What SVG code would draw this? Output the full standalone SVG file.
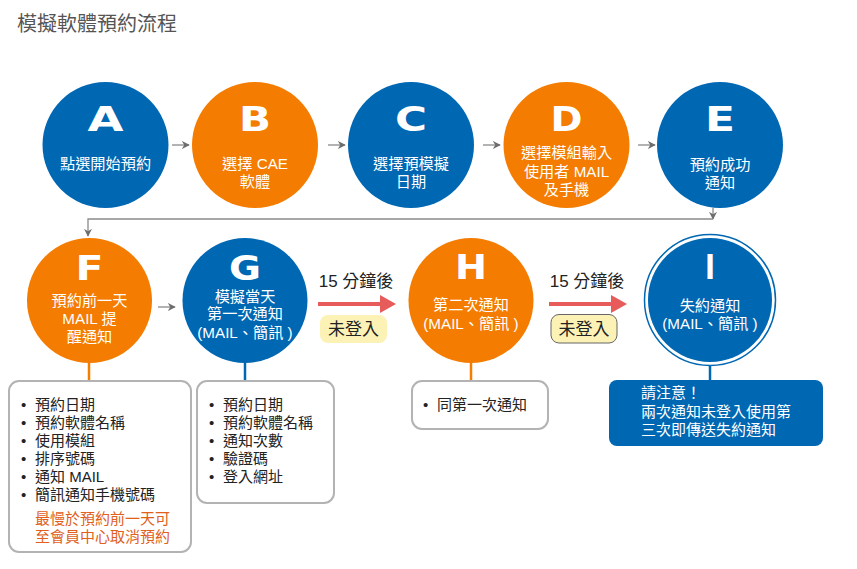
<svg xmlns="http://www.w3.org/2000/svg" width="857" height="569" viewBox="0 0 857 569">
<defs>
<style>
.t{font-family:"Liberation Sans","Noto Sans CJK TC",sans-serif}
.title{font-size:20px;fill:#555}
.blue{fill:#0067b3}
.orange{fill:#f47c00}
.let{font-family:"DejaVu Sans",sans-serif;font-weight:bold;font-size:33px;fill:#fff;text-anchor:middle}
.lab{font-family:"Liberation Sans","Noto Sans CJK TC",sans-serif;font-size:15.2px;fill:#fff;text-anchor:middle}
.box{fill:#fff;stroke:#b3b3b3;stroke-width:2}
.li{font-family:"Liberation Sans","Noto Sans CJK TC",sans-serif;font-size:15px;fill:#222}
.note{font-family:"Liberation Sans","Noto Sans CJK TC",sans-serif;font-size:15px;fill:#e0601c}
.gl{stroke:#8a8a8a;stroke-width:1.3;fill:none}
.red{stroke:#e85b5b;stroke-width:4;fill:none}
.min{font-family:"Liberation Sans","Noto Sans CJK TC",sans-serif;font-size:17px;fill:#222;text-anchor:middle}
</style>
<marker id="ga" viewBox="0 0 10 10" refX="9" refY="5" markerWidth="8" markerHeight="8" markerUnits="userSpaceOnUse" orient="auto"><path d="M0,0 L10,5 L0,10 L3,5 z" fill="#6d6d6d"/></marker>
</defs>
<rect width="857" height="569" fill="#fff"/>
<text class="t title" x="17" y="31">模擬軟體預約流程</text>

<g id="connectors">
<line class="gl" x1="172" y1="145" x2="189" y2="145" marker-end="url(#ga)"/>
<line class="gl" x1="328" y1="145" x2="345" y2="145" marker-end="url(#ga)"/>
<line class="gl" x1="483" y1="145" x2="500" y2="145" marker-end="url(#ga)"/>
<line class="gl" x1="638" y1="145" x2="655" y2="145" marker-end="url(#ga)"/>
<line class="gl" x1="713" y1="208" x2="713" y2="219" marker-end="url(#ga)"/>
<polyline class="gl" points="713,219 88,219 88,236" marker-end="url(#ga)"/>
<line class="gl" x1="158" y1="307" x2="175" y2="307" marker-end="url(#ga)"/>
<line class="red" x1="318" y1="304" x2="384" y2="304"/>
<path d="M380,295 L396,304 L380,313 z" fill="#e85b5b"/>
<line class="red" x1="549" y1="304" x2="615" y2="304"/>
<path d="M611,295 L627,304 L611,313 z" fill="#e85b5b"/>
<text class="min" x="356" y="287">15 分鐘後</text>
<text class="min" x="587" y="287">15 分鐘後</text>
<rect x="320" y="315" width="67" height="28" rx="8" fill="#fdf2b6"/>
<text class="min" x="353.5" y="335">未登入</text>
<rect x="551" y="314.5" width="66" height="28.5" rx="8" fill="#fdf2b6" stroke="#666" stroke-width="1"/>
<text class="min" x="584" y="335">未登入</text>
<line x1="89" y1="362" x2="89" y2="381" stroke="#f47c00" stroke-width="2.5"/>
<line x1="245" y1="362" x2="245" y2="381" stroke="#0067b3" stroke-width="2.5"/>
<line x1="471" y1="362" x2="471" y2="381" stroke="#f47c00" stroke-width="2.5"/>
<line x1="710" y1="366" x2="710" y2="381" stroke="#0067b3" stroke-width="2.5"/>
</g>

<g id="A">
<circle class="blue" cx="105.5" cy="145" r="63"/>
<text class="let" x="105.5" y="131" textLength="36" lengthAdjust="spacingAndGlyphs">A</text>
<text class="lab" x="105.5" y="169">點選開始預約</text>
</g>
<g id="B">
<circle class="orange" cx="255" cy="145" r="63"/>
<text class="let" x="255" y="131" textLength="32" lengthAdjust="spacingAndGlyphs">B</text>
<text class="lab" x="255" y="169">選擇 CAE<tspan x="255" dy="17.5">軟體</tspan></text>
</g>
<g id="C">
<circle class="blue" cx="411" cy="145" r="63"/>
<text class="let" x="411" y="131" textLength="32" lengthAdjust="spacingAndGlyphs">C</text>
<text class="lab" x="411" y="169">選擇預模擬<tspan x="411" dy="17.5">日期</tspan></text>
</g>
<g id="D">
<circle class="orange" cx="566.5" cy="145" r="63"/>
<text class="let" x="566.5" y="131" textLength="32" lengthAdjust="spacingAndGlyphs">D</text>
<text class="lab" x="566.5" y="158">選擇模組輸入<tspan x="566.5" dy="19">使用者 MAIL</tspan><tspan x="566.5" dy="18">及手機</tspan></text>
</g>
<g id="E">
<circle class="blue" cx="720" cy="145" r="63"/>
<text class="let" x="720" y="131" textLength="30" lengthAdjust="spacingAndGlyphs">E</text>
<text class="lab" x="720" y="170">預約成功<tspan x="720" dy="18">通知</tspan></text>
</g>

<g id="F">
<circle class="orange" cx="89.5" cy="300.5" r="62.5"/>
<text class="let" x="89.5" y="280" textLength="28" lengthAdjust="spacingAndGlyphs">F</text>
<text class="lab" x="89.5" y="306">預約前一天<tspan x="89.5" dy="18">MAIL 提</tspan><tspan x="89.5" dy="18">醒通知</tspan></text>
</g>
<g id="G">
<circle class="blue" cx="245" cy="300.5" r="62.5"/>
<text class="let" x="245" y="280" textLength="32" lengthAdjust="spacingAndGlyphs">G</text>
<text class="lab" x="245" y="302">模擬當天<tspan x="245" dy="17">第一次通知</tspan><tspan x="245" dy="18.5">(MAIL、簡訊 )</tspan></text>
</g>
<g id="H">
<circle class="orange" cx="471" cy="300.5" r="62.5"/>
<text class="let" x="471" y="279" textLength="32" lengthAdjust="spacingAndGlyphs">H</text>
<text class="lab" x="471" y="310">第二次通知<tspan x="471" dy="19">(MAIL、簡訊 )</tspan></text>
</g>
<g id="I">
<circle cx="710" cy="300" r="65.5" fill="none" stroke="#0067b3" stroke-width="1.5"/>
<circle class="blue" cx="710" cy="300" r="62"/>
<text class="let" x="710" y="279" textLength="10" lengthAdjust="spacingAndGlyphs">I</text>
<text class="lab" x="710" y="311">失約通知<tspan x="710" dy="18">(MAIL、簡訊 )</tspan></text>
</g>

<g id="boxF">
<rect class="box" x="9" y="381" width="182" height="171" rx="10"/>
<text class="li" x="21" y="410">•<tspan x="21" dy="18">•</tspan><tspan x="21" dy="18">•</tspan><tspan x="21" dy="18">•</tspan><tspan x="21" dy="18">•</tspan><tspan x="21" dy="18">•</tspan></text>
<text class="li" x="35" y="410">預約日期<tspan x="35" dy="18">預約軟體名稱</tspan><tspan x="35" dy="18">使用模組</tspan><tspan x="35" dy="18">排序號碼</tspan><tspan x="35" dy="18">通知 MAIL</tspan><tspan x="35" dy="18">簡訊通知手機號碼</tspan></text>
<text class="note" x="35" y="524">最慢於預約前一天可<tspan x="35" dy="18">至會員中心取消預約</tspan></text>
</g>
<g id="boxG">
<rect class="box" x="197" y="381" width="137" height="122" rx="10"/>
<text class="li" x="209" y="410">•<tspan x="209" dy="18">•</tspan><tspan x="209" dy="18">•</tspan><tspan x="209" dy="18">•</tspan><tspan x="209" dy="18">•</tspan></text>
<text class="li" x="223" y="410">預約日期<tspan x="223" dy="18">預約軟體名稱</tspan><tspan x="223" dy="18">通知次數</tspan><tspan x="223" dy="18">驗證碼</tspan><tspan x="223" dy="18">登入網址</tspan></text>
</g>
<g id="boxH">
<rect class="box" x="412" y="381" width="136" height="48" rx="10"/>
<text class="li" x="423" y="410">•</text>
<text class="li" x="437" y="410">同第一次通知</text>
</g>
<g id="boxI">
<rect class="blue" x="609" y="380" width="214" height="66" rx="8"/>
<text class="li" style="fill:#fff" x="641" y="398">請注意！<tspan x="641" dy="19">兩次通知未登入使用第</tspan><tspan x="641" dy="18">三次即傳送失約通知</tspan></text>
</g>
</svg>
